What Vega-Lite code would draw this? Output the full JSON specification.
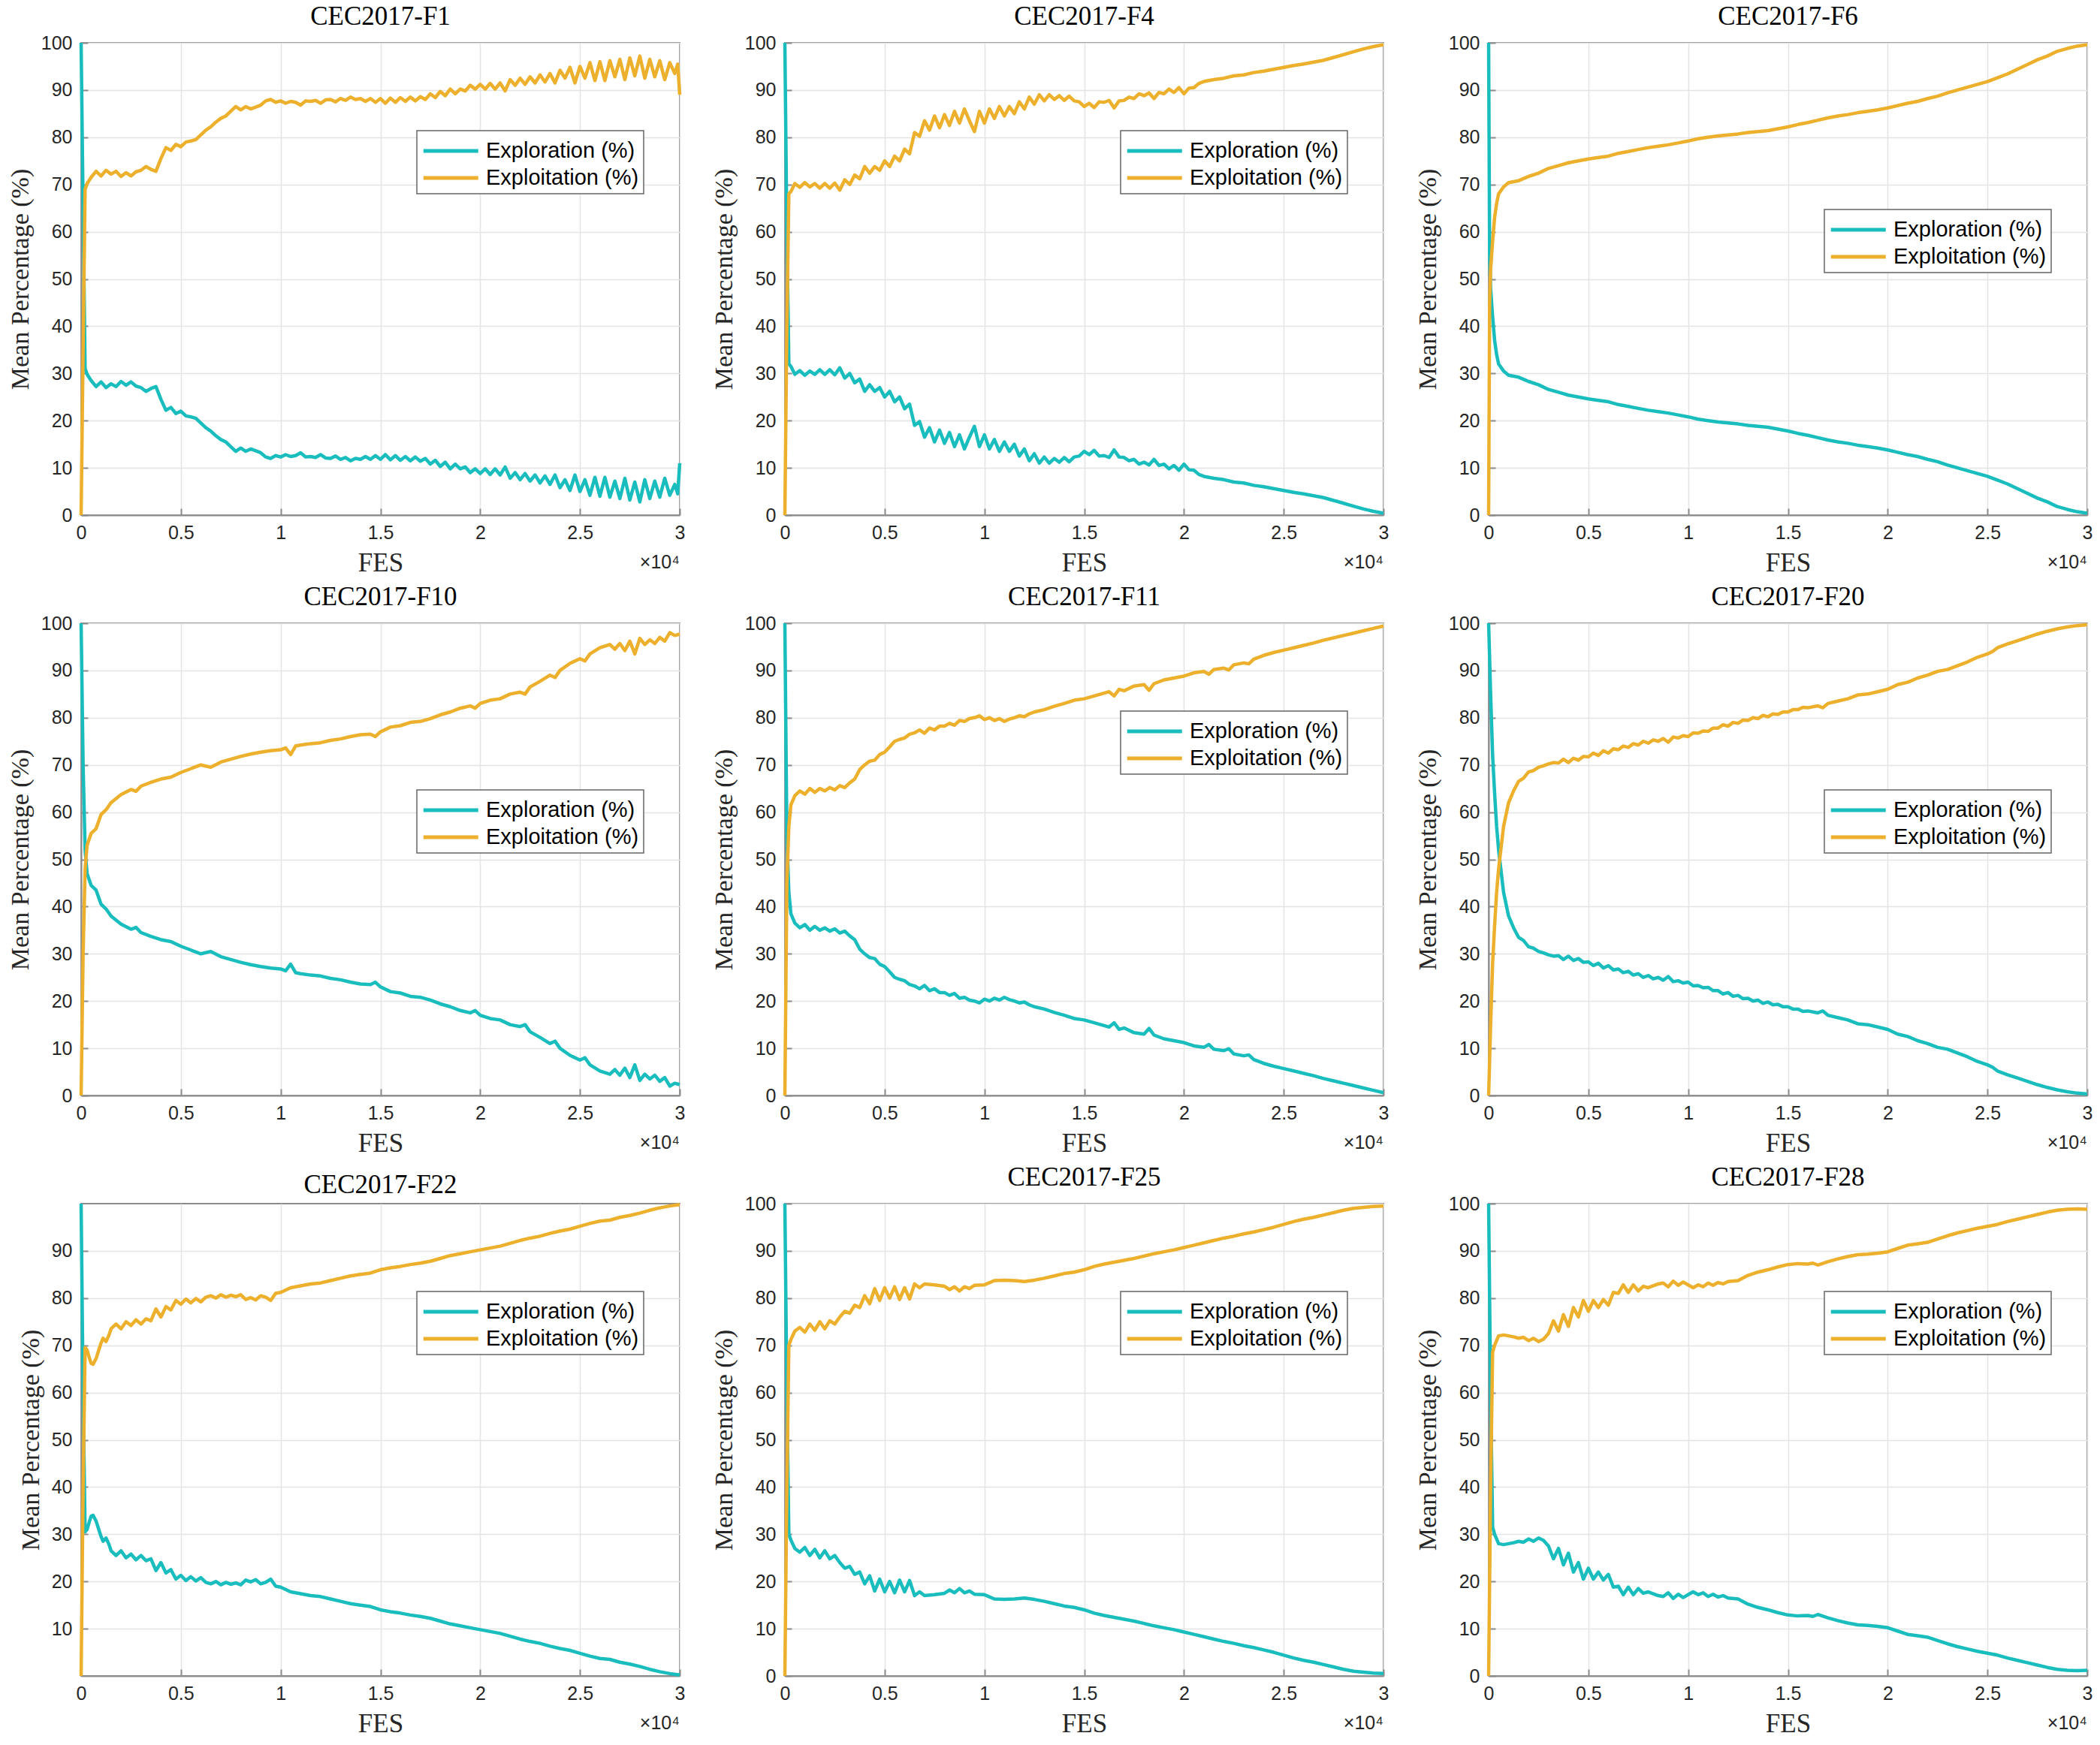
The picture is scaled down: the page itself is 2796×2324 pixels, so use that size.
{
"$schema":"https://vega.github.io/schema/vega-lite/v6.json",
"padding":{"left":9,"top":4,"right":0,"bottom":0},
"background":"white",
"data":{"values":[
{"p":"F1","x":0,"a":100,"b":0},{"p":"F1","x":100,"a":65,"b":35},{"p":"F1","x":200,"a":31,"b":69},{"p":"F1","x":300,"a":29.8,"b":70.2},{"p":"F1","x":500,"a":28.5,"b":71.5},{"p":"F1","x":750,"a":27.2,"b":72.8},{"p":"F1","x":1000,"a":28.2,"b":71.8},{"p":"F1","x":1250,"a":27,"b":73},{"p":"F1","x":1500,"a":27.8,"b":72.2},{"p":"F1","x":1750,"a":27.2,"b":72.8},{"p":"F1","x":2000,"a":28.3,"b":71.7},{"p":"F1","x":2250,"a":27.5,"b":72.5},{"p":"F1","x":2500,"a":28.2,"b":71.8},{"p":"F1","x":2750,"a":27.3,"b":72.7},{"p":"F1","x":3000,"a":27,"b":73},{"p":"F1","x":3250,"a":26.2,"b":73.8},{"p":"F1","x":3500,"a":26.8,"b":73.2},{"p":"F1","x":3750,"a":27.2,"b":72.8},{"p":"F1","x":4000,"a":24.5,"b":75.5},{"p":"F1","x":4250,"a":22.2,"b":77.8},{"p":"F1","x":4500,"a":22.8,"b":77.2},{"p":"F1","x":4750,"a":21.5,"b":78.5},{"p":"F1","x":5000,"a":22,"b":78},{"p":"F1","x":5250,"a":21,"b":79},{"p":"F1","x":5500,"a":20.8,"b":79.2},{"p":"F1","x":5750,"a":20.5,"b":79.5},{"p":"F1","x":6000,"a":19.5,"b":80.5},{"p":"F1","x":6250,"a":18.5,"b":81.5},{"p":"F1","x":6500,"a":17.8,"b":82.2},{"p":"F1","x":6750,"a":16.8,"b":83.2},{"p":"F1","x":7000,"a":16,"b":84},{"p":"F1","x":7250,"a":15.5,"b":84.5},{"p":"F1","x":7500,"a":14.5,"b":85.5},{"p":"F1","x":7750,"a":13.5,"b":86.5},{"p":"F1","x":8000,"a":14.2,"b":85.8},{"p":"F1","x":8250,"a":13.5,"b":86.5},{"p":"F1","x":8500,"a":14,"b":86},{"p":"F1","x":8750,"a":13.6,"b":86.4},{"p":"F1","x":9000,"a":13.2,"b":86.8},{"p":"F1","x":9250,"a":12.3,"b":87.7},{"p":"F1","x":9500,"a":12,"b":88},{"p":"F1","x":9750,"a":12.6,"b":87.4},{"p":"F1","x":10000,"a":12.3,"b":87.7},{"p":"F1","x":10250,"a":12.8,"b":87.2},{"p":"F1","x":10500,"a":12.4,"b":87.6},{"p":"F1","x":10750,"a":12.6,"b":87.4},{"p":"F1","x":11000,"a":13.2,"b":86.8},{"p":"F1","x":11250,"a":12.3,"b":87.7},{"p":"F1","x":11500,"a":12.4,"b":87.6},{"p":"F1","x":11750,"a":12.2,"b":87.8},{"p":"F1","x":12000,"a":12.8,"b":87.2},{"p":"F1","x":12250,"a":12.1,"b":87.9},{"p":"F1","x":12500,"a":12,"b":88},{"p":"F1","x":12750,"a":12.5,"b":87.5},{"p":"F1","x":13000,"a":11.8,"b":88.2},{"p":"F1","x":13250,"a":12.2,"b":87.8},{"p":"F1","x":13500,"a":11.5,"b":88.5},{"p":"F1","x":13750,"a":12,"b":88},{"p":"F1","x":14000,"a":11.8,"b":88.2},{"p":"F1","x":14250,"a":12.4,"b":87.6},{"p":"F1","x":14500,"a":11.8,"b":88.2},{"p":"F1","x":14750,"a":12.6,"b":87.4},{"p":"F1","x":15000,"a":11.8,"b":88.2},{"p":"F1","x":15250,"a":12.8,"b":87.2},{"p":"F1","x":15500,"a":11.7,"b":88.3},{"p":"F1","x":15750,"a":12.6,"b":87.4},{"p":"F1","x":16000,"a":11.6,"b":88.4},{"p":"F1","x":16250,"a":12.4,"b":87.6},{"p":"F1","x":16500,"a":11.5,"b":88.5},{"p":"F1","x":16750,"a":12.3,"b":87.7},{"p":"F1","x":17000,"a":11.4,"b":88.6},{"p":"F1","x":17250,"a":12,"b":88},{"p":"F1","x":17500,"a":10.8,"b":89.2},{"p":"F1","x":17750,"a":11.6,"b":88.4},{"p":"F1","x":18000,"a":10.3,"b":89.7},{"p":"F1","x":18250,"a":11.2,"b":88.8},{"p":"F1","x":18500,"a":9.8,"b":90.2},{"p":"F1","x":18750,"a":10.8,"b":89.2},{"p":"F1","x":19000,"a":9.8,"b":90.2},{"p":"F1","x":19250,"a":10.2,"b":89.8},{"p":"F1","x":19500,"a":9,"b":91},{"p":"F1","x":19750,"a":9.8,"b":90.2},{"p":"F1","x":20000,"a":8.8,"b":91.2},{"p":"F1","x":20250,"a":9.8,"b":90.2},{"p":"F1","x":20500,"a":8.6,"b":91.4},{"p":"F1","x":20750,"a":9.8,"b":90.2},{"p":"F1","x":21000,"a":8.5,"b":91.5},{"p":"F1","x":21250,"a":10.2,"b":89.8},{"p":"F1","x":21500,"a":7.8,"b":92.2},{"p":"F1","x":21750,"a":9,"b":91},{"p":"F1","x":22000,"a":7.5,"b":92.5},{"p":"F1","x":22250,"a":8.8,"b":91.2},{"p":"F1","x":22500,"a":7.2,"b":92.8},{"p":"F1","x":22750,"a":8.5,"b":91.5},{"p":"F1","x":23000,"a":6.8,"b":93.2},{"p":"F1","x":23250,"a":8.3,"b":91.7},{"p":"F1","x":23500,"a":6.5,"b":93.5},{"p":"F1","x":23750,"a":8.5,"b":91.5},{"p":"F1","x":24000,"a":5.8,"b":94.2},{"p":"F1","x":24250,"a":7.5,"b":92.5},{"p":"F1","x":24500,"a":5.2,"b":94.8},{"p":"F1","x":24750,"a":8.5,"b":91.5},{"p":"F1","x":25000,"a":5,"b":95},{"p":"F1","x":25250,"a":7.5,"b":92.5},{"p":"F1","x":25500,"a":4.2,"b":95.8},{"p":"F1","x":25750,"a":8,"b":92},{"p":"F1","x":26000,"a":4,"b":96},{"p":"F1","x":26250,"a":8,"b":92},{"p":"F1","x":26500,"a":3.8,"b":96.2},{"p":"F1","x":26750,"a":7.2,"b":92.8},{"p":"F1","x":27000,"a":3.5,"b":96.5},{"p":"F1","x":27250,"a":7.8,"b":92.2},{"p":"F1","x":27500,"a":3.2,"b":96.8},{"p":"F1","x":27750,"a":7,"b":93},{"p":"F1","x":28000,"a":2.8,"b":97.2},{"p":"F1","x":28250,"a":7.5,"b":92.5},{"p":"F1","x":28500,"a":3.5,"b":96.5},{"p":"F1","x":28750,"a":7.2,"b":92.8},{"p":"F1","x":29000,"a":3.8,"b":96.2},{"p":"F1","x":29250,"a":7.8,"b":92.2},{"p":"F1","x":29500,"a":4.2,"b":95.8},{"p":"F1","x":29750,"a":6.5,"b":93.5},{"p":"F1","x":29900,"a":4.5,"b":95.5},{"p":"F1","x":30000,"a":11,"b":89},
{"p":"F4","x":0,"a":100,"b":0},{"p":"F4","x":100,"a":60,"b":40},{"p":"F4","x":200,"a":32,"b":68},{"p":"F4","x":300,"a":31.5,"b":68.5},{"p":"F4","x":500,"a":29.8,"b":70.2},{"p":"F4","x":750,"a":30.6,"b":69.4},{"p":"F4","x":1000,"a":29.6,"b":70.4},{"p":"F4","x":1250,"a":30.5,"b":69.5},{"p":"F4","x":1500,"a":29.8,"b":70.2},{"p":"F4","x":1750,"a":30.8,"b":69.2},{"p":"F4","x":2000,"a":29.8,"b":70.2},{"p":"F4","x":2250,"a":30.8,"b":69.2},{"p":"F4","x":2500,"a":29.7,"b":70.3},{"p":"F4","x":2750,"a":31.2,"b":68.8},{"p":"F4","x":3000,"a":29,"b":71},{"p":"F4","x":3250,"a":30,"b":70},{"p":"F4","x":3500,"a":28,"b":72},{"p":"F4","x":3750,"a":28.8,"b":71.2},{"p":"F4","x":4000,"a":26.2,"b":73.8},{"p":"F4","x":4250,"a":27.6,"b":72.4},{"p":"F4","x":4500,"a":26.2,"b":73.8},{"p":"F4","x":4750,"a":27,"b":73},{"p":"F4","x":5000,"a":25,"b":75},{"p":"F4","x":5250,"a":26.2,"b":73.8},{"p":"F4","x":5500,"a":24,"b":76},{"p":"F4","x":5750,"a":25,"b":75},{"p":"F4","x":6000,"a":22.5,"b":77.5},{"p":"F4","x":6250,"a":23.5,"b":76.5},{"p":"F4","x":6500,"a":19,"b":81},{"p":"F4","x":6750,"a":19.8,"b":80.2},{"p":"F4","x":7000,"a":16.5,"b":83.5},{"p":"F4","x":7250,"a":18.5,"b":81.5},{"p":"F4","x":7500,"a":15.5,"b":84.5},{"p":"F4","x":7750,"a":18,"b":82},{"p":"F4","x":8000,"a":15.2,"b":84.8},{"p":"F4","x":8250,"a":17.5,"b":82.5},{"p":"F4","x":8500,"a":14.5,"b":85.5},{"p":"F4","x":8750,"a":17,"b":83},{"p":"F4","x":9000,"a":14,"b":86},{"p":"F4","x":9250,"a":16.5,"b":83.5},{"p":"F4","x":9500,"a":18.8,"b":81.2},{"p":"F4","x":9750,"a":14.5,"b":85.5},{"p":"F4","x":10000,"a":17,"b":83},{"p":"F4","x":10250,"a":14,"b":86},{"p":"F4","x":10500,"a":16,"b":84},{"p":"F4","x":10750,"a":13.5,"b":86.5},{"p":"F4","x":11000,"a":15.5,"b":84.5},{"p":"F4","x":11250,"a":13.5,"b":86.5},{"p":"F4","x":11500,"a":15,"b":85},{"p":"F4","x":11750,"a":12.5,"b":87.5},{"p":"F4","x":12000,"a":14,"b":86},{"p":"F4","x":12250,"a":11.5,"b":88.5},{"p":"F4","x":12500,"a":13,"b":87},{"p":"F4","x":12750,"a":11,"b":89},{"p":"F4","x":13000,"a":12.3,"b":87.7},{"p":"F4","x":13250,"a":11,"b":89},{"p":"F4","x":13500,"a":12,"b":88},{"p":"F4","x":13750,"a":11.2,"b":88.8},{"p":"F4","x":14000,"a":12.2,"b":87.8},{"p":"F4","x":14250,"a":11.3,"b":88.7},{"p":"F4","x":14500,"a":12.3,"b":87.7},{"p":"F4","x":14750,"a":12.5,"b":87.5},{"p":"F4","x":15000,"a":13.5,"b":86.5},{"p":"F4","x":15250,"a":12.8,"b":87.2},{"p":"F4","x":15500,"a":13.7,"b":86.3},{"p":"F4","x":15750,"a":12.5,"b":87.5},{"p":"F4","x":16000,"a":12.6,"b":87.4},{"p":"F4","x":16250,"a":12.2,"b":87.8},{"p":"F4","x":16500,"a":13.8,"b":86.2},{"p":"F4","x":16750,"a":12.3,"b":87.7},{"p":"F4","x":17000,"a":12.2,"b":87.8},{"p":"F4","x":17250,"a":11.5,"b":88.5},{"p":"F4","x":17500,"a":11.8,"b":88.2},{"p":"F4","x":17750,"a":10.8,"b":89.2},{"p":"F4","x":18000,"a":11.2,"b":88.8},{"p":"F4","x":18250,"a":10.6,"b":89.4},{"p":"F4","x":18500,"a":11.8,"b":88.2},{"p":"F4","x":18750,"a":10.5,"b":89.5},{"p":"F4","x":19000,"a":10.8,"b":89.2},{"p":"F4","x":19250,"a":9.8,"b":90.2},{"p":"F4","x":19500,"a":10.5,"b":89.5},{"p":"F4","x":19750,"a":9.5,"b":90.5},{"p":"F4","x":20000,"a":10.8,"b":89.2},{"p":"F4","x":20250,"a":9.6,"b":90.4},{"p":"F4","x":20500,"a":9.5,"b":90.5},{"p":"F4","x":20750,"a":8.6,"b":91.4},{"p":"F4","x":21000,"a":8.2,"b":91.8},{"p":"F4","x":21500,"a":7.8,"b":92.2},{"p":"F4","x":22000,"a":7.5,"b":92.5},{"p":"F4","x":22500,"a":7,"b":93},{"p":"F4","x":23000,"a":6.8,"b":93.2},{"p":"F4","x":23500,"a":6.3,"b":93.7},{"p":"F4","x":24000,"a":6,"b":94},{"p":"F4","x":24500,"a":5.6,"b":94.4},{"p":"F4","x":25000,"a":5.2,"b":94.8},{"p":"F4","x":25500,"a":4.8,"b":95.2},{"p":"F4","x":26000,"a":4.5,"b":95.5},{"p":"F4","x":26500,"a":4.1,"b":95.9},{"p":"F4","x":27000,"a":3.7,"b":96.3},{"p":"F4","x":27500,"a":3.1,"b":96.9},{"p":"F4","x":28000,"a":2.5,"b":97.5},{"p":"F4","x":28500,"a":1.9,"b":98.1},{"p":"F4","x":29000,"a":1.3,"b":98.7},{"p":"F4","x":29500,"a":0.8,"b":99.2},{"p":"F4","x":30000,"a":0.4,"b":99.6},
{"p":"F6","x":0,"a":100,"b":0},{"p":"F6","x":50,"a":55,"b":45},{"p":"F6","x":100,"a":48,"b":52},{"p":"F6","x":200,"a":42,"b":58},{"p":"F6","x":300,"a":37,"b":63},{"p":"F6","x":400,"a":34,"b":66},{"p":"F6","x":500,"a":32,"b":68},{"p":"F6","x":750,"a":30.5,"b":69.5},{"p":"F6","x":1000,"a":29.6,"b":70.4},{"p":"F6","x":1500,"a":29.2,"b":70.8},{"p":"F6","x":2000,"a":28.3,"b":71.7},{"p":"F6","x":2500,"a":27.6,"b":72.4},{"p":"F6","x":3000,"a":26.6,"b":73.4},{"p":"F6","x":3500,"a":26,"b":74},{"p":"F6","x":4000,"a":25.4,"b":74.6},{"p":"F6","x":4500,"a":25,"b":75},{"p":"F6","x":5000,"a":24.6,"b":75.4},{"p":"F6","x":5500,"a":24.3,"b":75.7},{"p":"F6","x":6000,"a":24,"b":76},{"p":"F6","x":6500,"a":23.4,"b":76.6},{"p":"F6","x":7000,"a":23,"b":77},{"p":"F6","x":7500,"a":22.6,"b":77.4},{"p":"F6","x":8000,"a":22.2,"b":77.8},{"p":"F6","x":8500,"a":21.9,"b":78.1},{"p":"F6","x":9000,"a":21.6,"b":78.4},{"p":"F6","x":9500,"a":21.2,"b":78.8},{"p":"F6","x":10000,"a":20.8,"b":79.2},{"p":"F6","x":10500,"a":20.3,"b":79.7},{"p":"F6","x":11000,"a":20,"b":80},{"p":"F6","x":11500,"a":19.7,"b":80.3},{"p":"F6","x":12000,"a":19.5,"b":80.5},{"p":"F6","x":12500,"a":19.3,"b":80.7},{"p":"F6","x":13000,"a":19,"b":81},{"p":"F6","x":13500,"a":18.8,"b":81.2},{"p":"F6","x":14000,"a":18.6,"b":81.4},{"p":"F6","x":14500,"a":18.2,"b":81.8},{"p":"F6","x":15000,"a":17.8,"b":82.2},{"p":"F6","x":15500,"a":17.3,"b":82.7},{"p":"F6","x":16000,"a":16.9,"b":83.1},{"p":"F6","x":16500,"a":16.4,"b":83.6},{"p":"F6","x":17000,"a":15.9,"b":84.1},{"p":"F6","x":17500,"a":15.5,"b":84.5},{"p":"F6","x":18000,"a":15.2,"b":84.8},{"p":"F6","x":18500,"a":14.8,"b":85.2},{"p":"F6","x":19000,"a":14.5,"b":85.5},{"p":"F6","x":19500,"a":14.2,"b":85.8},{"p":"F6","x":20000,"a":13.8,"b":86.2},{"p":"F6","x":20500,"a":13.3,"b":86.7},{"p":"F6","x":21000,"a":12.8,"b":87.2},{"p":"F6","x":21500,"a":12.4,"b":87.6},{"p":"F6","x":22000,"a":11.8,"b":88.2},{"p":"F6","x":22500,"a":11.3,"b":88.7},{"p":"F6","x":23000,"a":10.6,"b":89.4},{"p":"F6","x":23500,"a":10,"b":90},{"p":"F6","x":24000,"a":9.4,"b":90.6},{"p":"F6","x":24500,"a":8.8,"b":91.2},{"p":"F6","x":25000,"a":8.2,"b":91.8},{"p":"F6","x":25500,"a":7.4,"b":92.6},{"p":"F6","x":26000,"a":6.6,"b":93.4},{"p":"F6","x":26500,"a":5.6,"b":94.4},{"p":"F6","x":27000,"a":4.6,"b":95.4},{"p":"F6","x":27500,"a":3.6,"b":96.4},{"p":"F6","x":28000,"a":2.8,"b":97.2},{"p":"F6","x":28500,"a":1.8,"b":98.2},{"p":"F6","x":29000,"a":1.2,"b":98.8},{"p":"F6","x":29500,"a":0.7,"b":99.3},{"p":"F6","x":30000,"a":0.4,"b":99.6},
{"p":"F10","x":0,"a":100,"b":0},{"p":"F10","x":100,"a":70,"b":30},{"p":"F10","x":200,"a":52,"b":48},{"p":"F10","x":300,"a":47,"b":53},{"p":"F10","x":500,"a":44.5,"b":55.5},{"p":"F10","x":750,"a":43.5,"b":56.5},{"p":"F10","x":1000,"a":40.5,"b":59.5},{"p":"F10","x":1250,"a":39.5,"b":60.5},{"p":"F10","x":1500,"a":38,"b":62},{"p":"F10","x":2000,"a":36.3,"b":63.7},{"p":"F10","x":2500,"a":35.2,"b":64.8},{"p":"F10","x":2750,"a":35.6,"b":64.4},{"p":"F10","x":3000,"a":34.5,"b":65.5},{"p":"F10","x":3500,"a":33.7,"b":66.3},{"p":"F10","x":4000,"a":33,"b":67},{"p":"F10","x":4500,"a":32.6,"b":67.4},{"p":"F10","x":5000,"a":31.6,"b":68.4},{"p":"F10","x":5500,"a":30.8,"b":69.2},{"p":"F10","x":6000,"a":30,"b":70},{"p":"F10","x":6500,"a":30.5,"b":69.5},{"p":"F10","x":7000,"a":29.4,"b":70.6},{"p":"F10","x":7500,"a":28.8,"b":71.2},{"p":"F10","x":8000,"a":28.2,"b":71.8},{"p":"F10","x":8500,"a":27.7,"b":72.3},{"p":"F10","x":9000,"a":27.3,"b":72.7},{"p":"F10","x":9500,"a":27,"b":73},{"p":"F10","x":10000,"a":26.8,"b":73.2},{"p":"F10","x":10250,"a":26.4,"b":73.6},{"p":"F10","x":10500,"a":27.8,"b":72.2},{"p":"F10","x":10750,"a":26,"b":74},{"p":"F10","x":11000,"a":25.8,"b":74.2},{"p":"F10","x":11500,"a":25.5,"b":74.5},{"p":"F10","x":12000,"a":25.3,"b":74.7},{"p":"F10","x":12500,"a":24.8,"b":75.2},{"p":"F10","x":13000,"a":24.5,"b":75.5},{"p":"F10","x":13500,"a":24,"b":76},{"p":"F10","x":14000,"a":23.6,"b":76.4},{"p":"F10","x":14500,"a":23.5,"b":76.5},{"p":"F10","x":14750,"a":24,"b":76},{"p":"F10","x":15000,"a":23,"b":77},{"p":"F10","x":15500,"a":22,"b":78},{"p":"F10","x":16000,"a":21.7,"b":78.3},{"p":"F10","x":16500,"a":21,"b":79},{"p":"F10","x":17000,"a":20.8,"b":79.2},{"p":"F10","x":17500,"a":20.2,"b":79.8},{"p":"F10","x":18000,"a":19.4,"b":80.6},{"p":"F10","x":18500,"a":18.8,"b":81.2},{"p":"F10","x":19000,"a":18,"b":82},{"p":"F10","x":19500,"a":17.5,"b":82.5},{"p":"F10","x":19750,"a":18,"b":82},{"p":"F10","x":20000,"a":17,"b":83},{"p":"F10","x":20500,"a":16.3,"b":83.7},{"p":"F10","x":21000,"a":16,"b":84},{"p":"F10","x":21500,"a":15,"b":85},{"p":"F10","x":22000,"a":14.6,"b":85.4},{"p":"F10","x":22250,"a":15,"b":85},{"p":"F10","x":22500,"a":13.5,"b":86.5},{"p":"F10","x":23000,"a":12.3,"b":87.7},{"p":"F10","x":23500,"a":11,"b":89},{"p":"F10","x":23750,"a":11.5,"b":88.5},{"p":"F10","x":24000,"a":10,"b":90},{"p":"F10","x":24500,"a":8.5,"b":91.5},{"p":"F10","x":25000,"a":7.5,"b":92.5},{"p":"F10","x":25250,"a":8,"b":92},{"p":"F10","x":25500,"a":6.5,"b":93.5},{"p":"F10","x":26000,"a":5.2,"b":94.8},{"p":"F10","x":26500,"a":4.5,"b":95.5},{"p":"F10","x":26750,"a":5.5,"b":94.5},{"p":"F10","x":27000,"a":4.3,"b":95.7},{"p":"F10","x":27250,"a":5.8,"b":94.2},{"p":"F10","x":27500,"a":3.8,"b":96.2},{"p":"F10","x":27750,"a":6.5,"b":93.5},{"p":"F10","x":28000,"a":3.2,"b":96.8},{"p":"F10","x":28250,"a":4.5,"b":95.5},{"p":"F10","x":28500,"a":3.5,"b":96.5},{"p":"F10","x":28750,"a":4.3,"b":95.7},{"p":"F10","x":29000,"a":3,"b":97},{"p":"F10","x":29250,"a":3.8,"b":96.2},{"p":"F10","x":29500,"a":2,"b":98},{"p":"F10","x":29750,"a":2.6,"b":97.4},{"p":"F10","x":30000,"a":2.3,"b":97.7},
{"p":"F11","x":0,"a":100,"b":0},{"p":"F11","x":100,"a":55,"b":45},{"p":"F11","x":200,"a":43,"b":57},{"p":"F11","x":300,"a":38.5,"b":61.5},{"p":"F11","x":500,"a":36.5,"b":63.5},{"p":"F11","x":750,"a":35.5,"b":64.5},{"p":"F11","x":1000,"a":36.2,"b":63.8},{"p":"F11","x":1250,"a":35,"b":65},{"p":"F11","x":1500,"a":35.8,"b":64.2},{"p":"F11","x":1750,"a":35,"b":65},{"p":"F11","x":2000,"a":35.5,"b":64.5},{"p":"F11","x":2250,"a":34.8,"b":65.2},{"p":"F11","x":2500,"a":35.3,"b":64.7},{"p":"F11","x":2750,"a":34.4,"b":65.6},{"p":"F11","x":3000,"a":34.8,"b":65.2},{"p":"F11","x":3250,"a":33.8,"b":66.2},{"p":"F11","x":3500,"a":33,"b":67},{"p":"F11","x":3750,"a":31,"b":69},{"p":"F11","x":4000,"a":30,"b":70},{"p":"F11","x":4250,"a":29.2,"b":70.8},{"p":"F11","x":4500,"a":29,"b":71},{"p":"F11","x":4750,"a":27.8,"b":72.2},{"p":"F11","x":5000,"a":27.3,"b":72.7},{"p":"F11","x":5250,"a":26.2,"b":73.8},{"p":"F11","x":5500,"a":25,"b":75},{"p":"F11","x":5750,"a":24.6,"b":75.4},{"p":"F11","x":6000,"a":24.3,"b":75.7},{"p":"F11","x":6250,"a":23.5,"b":76.5},{"p":"F11","x":6500,"a":23.2,"b":76.8},{"p":"F11","x":6750,"a":22.6,"b":77.4},{"p":"F11","x":7000,"a":23.3,"b":76.7},{"p":"F11","x":7250,"a":22.2,"b":77.8},{"p":"F11","x":7500,"a":22.6,"b":77.4},{"p":"F11","x":7750,"a":21.8,"b":78.2},{"p":"F11","x":8000,"a":21.8,"b":78.2},{"p":"F11","x":8250,"a":21.2,"b":78.8},{"p":"F11","x":8500,"a":21.6,"b":78.4},{"p":"F11","x":8750,"a":20.6,"b":79.4},{"p":"F11","x":9000,"a":20.8,"b":79.2},{"p":"F11","x":9250,"a":20.2,"b":79.8},{"p":"F11","x":9500,"a":20,"b":80},{"p":"F11","x":9750,"a":19.6,"b":80.4},{"p":"F11","x":10000,"a":20.4,"b":79.6},{"p":"F11","x":10250,"a":20,"b":80},{"p":"F11","x":10500,"a":20.6,"b":79.4},{"p":"F11","x":10750,"a":20.2,"b":79.8},{"p":"F11","x":11000,"a":20.8,"b":79.2},{"p":"F11","x":11250,"a":20.3,"b":79.7},{"p":"F11","x":11500,"a":20,"b":80},{"p":"F11","x":11750,"a":19.6,"b":80.4},{"p":"F11","x":12000,"a":19.8,"b":80.2},{"p":"F11","x":12250,"a":19.2,"b":80.8},{"p":"F11","x":12500,"a":18.8,"b":81.2},{"p":"F11","x":13000,"a":18.3,"b":81.7},{"p":"F11","x":13500,"a":17.6,"b":82.4},{"p":"F11","x":14000,"a":17,"b":83},{"p":"F11","x":14500,"a":16.3,"b":83.7},{"p":"F11","x":15000,"a":16,"b":84},{"p":"F11","x":15500,"a":15.4,"b":84.6},{"p":"F11","x":16000,"a":14.8,"b":85.2},{"p":"F11","x":16250,"a":14.5,"b":85.5},{"p":"F11","x":16500,"a":15.4,"b":84.6},{"p":"F11","x":16750,"a":14,"b":86},{"p":"F11","x":17000,"a":14.3,"b":85.7},{"p":"F11","x":17500,"a":13.3,"b":86.7},{"p":"F11","x":18000,"a":13,"b":87},{"p":"F11","x":18250,"a":14.2,"b":85.8},{"p":"F11","x":18500,"a":12.8,"b":87.2},{"p":"F11","x":19000,"a":12,"b":88},{"p":"F11","x":19500,"a":11.6,"b":88.4},{"p":"F11","x":20000,"a":11.2,"b":88.8},{"p":"F11","x":20500,"a":10.5,"b":89.5},{"p":"F11","x":21000,"a":10.2,"b":89.8},{"p":"F11","x":21250,"a":10.8,"b":89.2},{"p":"F11","x":21500,"a":9.8,"b":90.2},{"p":"F11","x":22000,"a":9.5,"b":90.5},{"p":"F11","x":22250,"a":9.9,"b":90.1},{"p":"F11","x":22500,"a":8.8,"b":91.2},{"p":"F11","x":23000,"a":8.4,"b":91.6},{"p":"F11","x":23250,"a":8.6,"b":91.4},{"p":"F11","x":23500,"a":7.6,"b":92.4},{"p":"F11","x":24000,"a":6.8,"b":93.2},{"p":"F11","x":24500,"a":6.2,"b":93.8},{"p":"F11","x":25000,"a":5.7,"b":94.3},{"p":"F11","x":25500,"a":5.2,"b":94.8},{"p":"F11","x":26000,"a":4.7,"b":95.3},{"p":"F11","x":26500,"a":4.2,"b":95.8},{"p":"F11","x":27000,"a":3.6,"b":96.4},{"p":"F11","x":27500,"a":3.1,"b":96.9},{"p":"F11","x":28000,"a":2.6,"b":97.4},{"p":"F11","x":28500,"a":2.1,"b":97.9},{"p":"F11","x":29000,"a":1.6,"b":98.4},{"p":"F11","x":29500,"a":1.1,"b":98.9},{"p":"F11","x":30000,"a":0.6,"b":99.4},
{"p":"F20","x":0,"a":100,"b":0},{"p":"F20","x":100,"a":85,"b":15},{"p":"F20","x":200,"a":72,"b":28},{"p":"F20","x":300,"a":64,"b":36},{"p":"F20","x":400,"a":57,"b":43},{"p":"F20","x":500,"a":52,"b":48},{"p":"F20","x":750,"a":43,"b":57},{"p":"F20","x":1000,"a":38,"b":62},{"p":"F20","x":1250,"a":35.5,"b":64.5},{"p":"F20","x":1500,"a":33.5,"b":66.5},{"p":"F20","x":1750,"a":32.8,"b":67.2},{"p":"F20","x":2000,"a":31.5,"b":68.5},{"p":"F20","x":2250,"a":31.2,"b":68.8},{"p":"F20","x":2500,"a":30.5,"b":69.5},{"p":"F20","x":2750,"a":30.2,"b":69.8},{"p":"F20","x":3000,"a":29.8,"b":70.2},{"p":"F20","x":3250,"a":29.5,"b":70.5},{"p":"F20","x":3500,"a":29.6,"b":70.4},{"p":"F20","x":3750,"a":28.8,"b":71.2},{"p":"F20","x":4000,"a":29.5,"b":70.5},{"p":"F20","x":4250,"a":28.6,"b":71.4},{"p":"F20","x":4500,"a":29,"b":71},{"p":"F20","x":4750,"a":28.2,"b":71.8},{"p":"F20","x":5000,"a":28.3,"b":71.7},{"p":"F20","x":5250,"a":27.5,"b":72.5},{"p":"F20","x":5500,"a":28,"b":72},{"p":"F20","x":5750,"a":27,"b":73},{"p":"F20","x":6000,"a":27.5,"b":72.5},{"p":"F20","x":6250,"a":26.6,"b":73.4},{"p":"F20","x":6500,"a":26.8,"b":73.2},{"p":"F20","x":6750,"a":26,"b":74},{"p":"F20","x":7000,"a":26.3,"b":73.7},{"p":"F20","x":7250,"a":25.5,"b":74.5},{"p":"F20","x":7500,"a":25.8,"b":74.2},{"p":"F20","x":7750,"a":25,"b":75},{"p":"F20","x":8000,"a":25.4,"b":74.6},{"p":"F20","x":8250,"a":24.7,"b":75.3},{"p":"F20","x":8500,"a":25,"b":75},{"p":"F20","x":8750,"a":24.4,"b":75.6},{"p":"F20","x":9000,"a":25.2,"b":74.8},{"p":"F20","x":9250,"a":24.1,"b":75.9},{"p":"F20","x":9500,"a":24.3,"b":75.7},{"p":"F20","x":9750,"a":23.8,"b":76.2},{"p":"F20","x":10000,"a":24,"b":76},{"p":"F20","x":10250,"a":23.2,"b":76.8},{"p":"F20","x":10500,"a":23.3,"b":76.7},{"p":"F20","x":10750,"a":22.8,"b":77.2},{"p":"F20","x":11000,"a":22.9,"b":77.1},{"p":"F20","x":11250,"a":22.2,"b":77.8},{"p":"F20","x":11500,"a":22.2,"b":77.8},{"p":"F20","x":11750,"a":21.5,"b":78.5},{"p":"F20","x":12000,"a":21.8,"b":78.2},{"p":"F20","x":12250,"a":21,"b":79},{"p":"F20","x":12500,"a":21.2,"b":78.8},{"p":"F20","x":12750,"a":20.5,"b":79.5},{"p":"F20","x":13000,"a":20.6,"b":79.4},{"p":"F20","x":13250,"a":20,"b":80},{"p":"F20","x":13500,"a":20.2,"b":79.8},{"p":"F20","x":13750,"a":19.5,"b":80.5},{"p":"F20","x":14000,"a":19.8,"b":80.2},{"p":"F20","x":14250,"a":19.2,"b":80.8},{"p":"F20","x":14500,"a":19.3,"b":80.7},{"p":"F20","x":14750,"a":18.8,"b":81.2},{"p":"F20","x":15000,"a":18.8,"b":81.2},{"p":"F20","x":15250,"a":18.3,"b":81.7},{"p":"F20","x":15500,"a":18.3,"b":81.7},{"p":"F20","x":15750,"a":17.8,"b":82.2},{"p":"F20","x":16000,"a":17.9,"b":82.1},{"p":"F20","x":16500,"a":17.5,"b":82.5},{"p":"F20","x":16750,"a":17.9,"b":82.1},{"p":"F20","x":17000,"a":17,"b":83},{"p":"F20","x":17500,"a":16.5,"b":83.5},{"p":"F20","x":18000,"a":16,"b":84},{"p":"F20","x":18500,"a":15.2,"b":84.8},{"p":"F20","x":19000,"a":15,"b":85},{"p":"F20","x":19500,"a":14.5,"b":85.5},{"p":"F20","x":20000,"a":14,"b":86},{"p":"F20","x":20500,"a":13,"b":87},{"p":"F20","x":21000,"a":12.5,"b":87.5},{"p":"F20","x":21500,"a":11.6,"b":88.4},{"p":"F20","x":22000,"a":11,"b":89},{"p":"F20","x":22500,"a":10.2,"b":89.8},{"p":"F20","x":23000,"a":9.8,"b":90.2},{"p":"F20","x":23500,"a":9,"b":91},{"p":"F20","x":24000,"a":8.2,"b":91.8},{"p":"F20","x":24500,"a":7.2,"b":92.8},{"p":"F20","x":25000,"a":6.5,"b":93.5},{"p":"F20","x":25250,"a":6,"b":94},{"p":"F20","x":25500,"a":5.2,"b":94.8},{"p":"F20","x":26000,"a":4.4,"b":95.6},{"p":"F20","x":26500,"a":3.7,"b":96.3},{"p":"F20","x":27000,"a":3,"b":97},{"p":"F20","x":27500,"a":2.3,"b":97.7},{"p":"F20","x":28000,"a":1.7,"b":98.3},{"p":"F20","x":28500,"a":1.2,"b":98.8},{"p":"F20","x":29000,"a":0.8,"b":99.2},{"p":"F20","x":29500,"a":0.5,"b":99.5},{"p":"F20","x":30000,"a":0.3,"b":99.7},
{"p":"F22","x":0,"a":100,"b":0},{"p":"F22","x":100,"a":60,"b":40},{"p":"F22","x":200,"a":30.5,"b":69.5},{"p":"F22","x":300,"a":31,"b":69},{"p":"F22","x":400,"a":32.5,"b":67.5},{"p":"F22","x":500,"a":33.8,"b":66.2},{"p":"F22","x":600,"a":34,"b":66},{"p":"F22","x":750,"a":32.8,"b":67.2},{"p":"F22","x":1000,"a":29.5,"b":70.5},{"p":"F22","x":1100,"a":28.5,"b":71.5},{"p":"F22","x":1250,"a":29.2,"b":70.8},{"p":"F22","x":1400,"a":27.8,"b":72.2},{"p":"F22","x":1500,"a":26.5,"b":73.5},{"p":"F22","x":1750,"a":25.5,"b":74.5},{"p":"F22","x":2000,"a":26.5,"b":73.5},{"p":"F22","x":2250,"a":25,"b":75},{"p":"F22","x":2500,"a":25.8,"b":74.2},{"p":"F22","x":2750,"a":24.6,"b":75.4},{"p":"F22","x":3000,"a":25.5,"b":74.5},{"p":"F22","x":3250,"a":24.4,"b":75.6},{"p":"F22","x":3500,"a":24.8,"b":75.2},{"p":"F22","x":3750,"a":22.3,"b":77.7},{"p":"F22","x":4000,"a":24,"b":76},{"p":"F22","x":4250,"a":21.8,"b":78.2},{"p":"F22","x":4500,"a":22.5,"b":77.5},{"p":"F22","x":4750,"a":20.5,"b":79.5},{"p":"F22","x":5000,"a":21.3,"b":78.7},{"p":"F22","x":5250,"a":20.2,"b":79.8},{"p":"F22","x":5500,"a":21,"b":79},{"p":"F22","x":5750,"a":20.1,"b":79.9},{"p":"F22","x":6000,"a":20.8,"b":79.2},{"p":"F22","x":6250,"a":19.8,"b":80.2},{"p":"F22","x":6500,"a":19.5,"b":80.5},{"p":"F22","x":6750,"a":20,"b":80},{"p":"F22","x":7000,"a":19.3,"b":80.7},{"p":"F22","x":7250,"a":19.8,"b":80.2},{"p":"F22","x":7500,"a":19.4,"b":80.6},{"p":"F22","x":7750,"a":19.7,"b":80.3},{"p":"F22","x":8000,"a":19.3,"b":80.7},{"p":"F22","x":8250,"a":20.3,"b":79.7},{"p":"F22","x":8500,"a":19.9,"b":80.1},{"p":"F22","x":8750,"a":20.4,"b":79.6},{"p":"F22","x":9000,"a":19.5,"b":80.5},{"p":"F22","x":9250,"a":19.8,"b":80.2},{"p":"F22","x":9500,"a":20.5,"b":79.5},{"p":"F22","x":9750,"a":19,"b":81},{"p":"F22","x":10000,"a":18.8,"b":81.2},{"p":"F22","x":10500,"a":17.8,"b":82.2},{"p":"F22","x":11000,"a":17.4,"b":82.6},{"p":"F22","x":11500,"a":17,"b":83},{"p":"F22","x":12000,"a":16.8,"b":83.2},{"p":"F22","x":12500,"a":16.3,"b":83.7},{"p":"F22","x":13000,"a":15.8,"b":84.2},{"p":"F22","x":13500,"a":15.3,"b":84.7},{"p":"F22","x":14000,"a":15,"b":85},{"p":"F22","x":14500,"a":14.7,"b":85.3},{"p":"F22","x":15000,"a":14,"b":86},{"p":"F22","x":15500,"a":13.6,"b":86.4},{"p":"F22","x":16000,"a":13.3,"b":86.7},{"p":"F22","x":16500,"a":12.9,"b":87.1},{"p":"F22","x":17000,"a":12.6,"b":87.4},{"p":"F22","x":17500,"a":12.2,"b":87.8},{"p":"F22","x":18000,"a":11.6,"b":88.4},{"p":"F22","x":18500,"a":11,"b":89},{"p":"F22","x":19000,"a":10.6,"b":89.4},{"p":"F22","x":19500,"a":10.2,"b":89.8},{"p":"F22","x":20000,"a":9.8,"b":90.2},{"p":"F22","x":20500,"a":9.4,"b":90.6},{"p":"F22","x":21000,"a":9,"b":91},{"p":"F22","x":21500,"a":8.4,"b":91.6},{"p":"F22","x":22000,"a":7.8,"b":92.2},{"p":"F22","x":22500,"a":7.3,"b":92.7},{"p":"F22","x":23000,"a":6.9,"b":93.1},{"p":"F22","x":23500,"a":6.3,"b":93.7},{"p":"F22","x":24000,"a":5.8,"b":94.2},{"p":"F22","x":24500,"a":5.4,"b":94.6},{"p":"F22","x":25000,"a":4.8,"b":95.2},{"p":"F22","x":25500,"a":4.2,"b":95.8},{"p":"F22","x":26000,"a":3.7,"b":96.3},{"p":"F22","x":26500,"a":3.5,"b":96.5},{"p":"F22","x":27000,"a":2.9,"b":97.1},{"p":"F22","x":27500,"a":2.5,"b":97.5},{"p":"F22","x":28000,"a":2,"b":98},{"p":"F22","x":28500,"a":1.4,"b":98.6},{"p":"F22","x":29000,"a":0.9,"b":99.1},{"p":"F22","x":29500,"a":0.5,"b":99.5},{"p":"F22","x":30000,"a":0.2,"b":99.8},
{"p":"F25","x":0,"a":100,"b":0},{"p":"F25","x":100,"a":60,"b":40},{"p":"F25","x":200,"a":30,"b":70},{"p":"F25","x":300,"a":28.8,"b":71.2},{"p":"F25","x":500,"a":27,"b":73},{"p":"F25","x":750,"a":26.2,"b":73.8},{"p":"F25","x":1000,"a":27.2,"b":72.8},{"p":"F25","x":1250,"a":25.5,"b":74.5},{"p":"F25","x":1500,"a":26.8,"b":73.2},{"p":"F25","x":1750,"a":25,"b":75},{"p":"F25","x":2000,"a":26.5,"b":73.5},{"p":"F25","x":2250,"a":24.8,"b":75.2},{"p":"F25","x":2500,"a":25.5,"b":74.5},{"p":"F25","x":2750,"a":24,"b":76},{"p":"F25","x":3000,"a":22.8,"b":77.2},{"p":"F25","x":3250,"a":23.2,"b":76.8},{"p":"F25","x":3500,"a":21.5,"b":78.5},{"p":"F25","x":3750,"a":22,"b":78},{"p":"F25","x":4000,"a":19.5,"b":80.5},{"p":"F25","x":4250,"a":21.2,"b":78.8},{"p":"F25","x":4500,"a":18,"b":82},{"p":"F25","x":4750,"a":20.5,"b":79.5},{"p":"F25","x":5000,"a":17.8,"b":82.2},{"p":"F25","x":5250,"a":20,"b":80},{"p":"F25","x":5500,"a":17.6,"b":82.4},{"p":"F25","x":5750,"a":20.3,"b":79.7},{"p":"F25","x":6000,"a":17.8,"b":82.2},{"p":"F25","x":6250,"a":20.2,"b":79.8},{"p":"F25","x":6500,"a":17,"b":83},{"p":"F25","x":6750,"a":17.8,"b":82.2},{"p":"F25","x":7000,"a":17,"b":83},{"p":"F25","x":7500,"a":17.2,"b":82.8},{"p":"F25","x":8000,"a":17.5,"b":82.5},{"p":"F25","x":8250,"a":18.2,"b":81.8},{"p":"F25","x":8500,"a":17.6,"b":82.4},{"p":"F25","x":8750,"a":18.5,"b":81.5},{"p":"F25","x":9000,"a":17.6,"b":82.4},{"p":"F25","x":9250,"a":18,"b":82},{"p":"F25","x":9500,"a":17.3,"b":82.7},{"p":"F25","x":10000,"a":17.2,"b":82.8},{"p":"F25","x":10500,"a":16.3,"b":83.7},{"p":"F25","x":11000,"a":16.2,"b":83.8},{"p":"F25","x":11500,"a":16.3,"b":83.7},{"p":"F25","x":12000,"a":16.5,"b":83.5},{"p":"F25","x":12500,"a":16.2,"b":83.8},{"p":"F25","x":13000,"a":15.8,"b":84.2},{"p":"F25","x":13500,"a":15.3,"b":84.7},{"p":"F25","x":14000,"a":14.8,"b":85.2},{"p":"F25","x":14500,"a":14.5,"b":85.5},{"p":"F25","x":15000,"a":14,"b":86},{"p":"F25","x":15500,"a":13.3,"b":86.7},{"p":"F25","x":16000,"a":12.8,"b":87.2},{"p":"F25","x":16500,"a":12.4,"b":87.6},{"p":"F25","x":17000,"a":12,"b":88},{"p":"F25","x":17500,"a":11.6,"b":88.4},{"p":"F25","x":18000,"a":11.1,"b":88.9},{"p":"F25","x":18500,"a":10.6,"b":89.4},{"p":"F25","x":19000,"a":10.2,"b":89.8},{"p":"F25","x":19500,"a":9.8,"b":90.2},{"p":"F25","x":20000,"a":9.3,"b":90.7},{"p":"F25","x":20500,"a":8.8,"b":91.2},{"p":"F25","x":21000,"a":8.3,"b":91.7},{"p":"F25","x":21500,"a":7.8,"b":92.2},{"p":"F25","x":22000,"a":7.3,"b":92.7},{"p":"F25","x":22500,"a":6.9,"b":93.1},{"p":"F25","x":23000,"a":6.4,"b":93.6},{"p":"F25","x":23500,"a":6,"b":94},{"p":"F25","x":24000,"a":5.5,"b":94.5},{"p":"F25","x":24500,"a":5,"b":95},{"p":"F25","x":25000,"a":4.4,"b":95.6},{"p":"F25","x":25500,"a":3.8,"b":96.2},{"p":"F25","x":26000,"a":3.3,"b":96.7},{"p":"F25","x":26500,"a":2.9,"b":97.1},{"p":"F25","x":27000,"a":2.4,"b":97.6},{"p":"F25","x":27500,"a":1.9,"b":98.1},{"p":"F25","x":28000,"a":1.4,"b":98.6},{"p":"F25","x":28500,"a":1,"b":99},{"p":"F25","x":29000,"a":0.8,"b":99.2},{"p":"F25","x":29500,"a":0.6,"b":99.4},{"p":"F25","x":30000,"a":0.5,"b":99.5},
{"p":"F28","x":0,"a":100,"b":0},{"p":"F28","x":100,"a":60,"b":40},{"p":"F28","x":200,"a":31.5,"b":68.5},{"p":"F28","x":300,"a":30,"b":70},{"p":"F28","x":500,"a":28,"b":72},{"p":"F28","x":750,"a":27.8,"b":72.2},{"p":"F28","x":1000,"a":28,"b":72},{"p":"F28","x":1250,"a":28.2,"b":71.8},{"p":"F28","x":1500,"a":28.5,"b":71.5},{"p":"F28","x":1750,"a":28.3,"b":71.7},{"p":"F28","x":2000,"a":29,"b":71},{"p":"F28","x":2250,"a":28.5,"b":71.5},{"p":"F28","x":2500,"a":29.2,"b":70.8},{"p":"F28","x":2750,"a":28.7,"b":71.3},{"p":"F28","x":3000,"a":27.5,"b":72.5},{"p":"F28","x":3250,"a":24.8,"b":75.2},{"p":"F28","x":3500,"a":27,"b":73},{"p":"F28","x":3750,"a":23.5,"b":76.5},{"p":"F28","x":4000,"a":26,"b":74},{"p":"F28","x":4250,"a":22,"b":78},{"p":"F28","x":4500,"a":24,"b":76},{"p":"F28","x":4750,"a":20.5,"b":79.5},{"p":"F28","x":5000,"a":22.8,"b":77.2},{"p":"F28","x":5250,"a":20.5,"b":79.5},{"p":"F28","x":5500,"a":22,"b":78},{"p":"F28","x":5750,"a":20.3,"b":79.7},{"p":"F28","x":6000,"a":21.5,"b":78.5},{"p":"F28","x":6250,"a":18.8,"b":81.2},{"p":"F28","x":6500,"a":19,"b":81},{"p":"F28","x":6750,"a":17.2,"b":82.8},{"p":"F28","x":7000,"a":18.8,"b":81.2},{"p":"F28","x":7250,"a":17.2,"b":82.8},{"p":"F28","x":7500,"a":18.5,"b":81.5},{"p":"F28","x":7750,"a":17.5,"b":82.5},{"p":"F28","x":8000,"a":17.8,"b":82.2},{"p":"F28","x":8500,"a":17,"b":83},{"p":"F28","x":8750,"a":16.8,"b":83.2},{"p":"F28","x":9000,"a":17.6,"b":82.4},{"p":"F28","x":9250,"a":16.4,"b":83.6},{"p":"F28","x":9500,"a":17.3,"b":82.7},{"p":"F28","x":9750,"a":16.6,"b":83.4},{"p":"F28","x":10000,"a":17.2,"b":82.8},{"p":"F28","x":10250,"a":17.8,"b":82.2},{"p":"F28","x":10500,"a":17.2,"b":82.8},{"p":"F28","x":10750,"a":17.6,"b":82.4},{"p":"F28","x":11000,"a":16.8,"b":83.2},{"p":"F28","x":11250,"a":17.3,"b":82.7},{"p":"F28","x":11500,"a":16.7,"b":83.3},{"p":"F28","x":11750,"a":17,"b":83},{"p":"F28","x":12000,"a":16.5,"b":83.5},{"p":"F28","x":12500,"a":16.3,"b":83.7},{"p":"F28","x":13000,"a":15.2,"b":84.8},{"p":"F28","x":13500,"a":14.5,"b":85.5},{"p":"F28","x":14000,"a":14,"b":86},{"p":"F28","x":14500,"a":13.4,"b":86.6},{"p":"F28","x":15000,"a":12.9,"b":87.1},{"p":"F28","x":15500,"a":12.7,"b":87.3},{"p":"F28","x":16000,"a":12.8,"b":87.2},{"p":"F28","x":16250,"a":12.6,"b":87.4},{"p":"F28","x":16500,"a":13,"b":87},{"p":"F28","x":17000,"a":12.3,"b":87.7},{"p":"F28","x":17500,"a":11.7,"b":88.3},{"p":"F28","x":18000,"a":11.2,"b":88.8},{"p":"F28","x":18500,"a":10.8,"b":89.2},{"p":"F28","x":19000,"a":10.7,"b":89.3},{"p":"F28","x":19500,"a":10.5,"b":89.5},{"p":"F28","x":20000,"a":10.2,"b":89.8},{"p":"F28","x":20500,"a":9.5,"b":90.5},{"p":"F28","x":21000,"a":8.8,"b":91.2},{"p":"F28","x":21500,"a":8.5,"b":91.5},{"p":"F28","x":22000,"a":8.2,"b":91.8},{"p":"F28","x":22500,"a":7.5,"b":92.5},{"p":"F28","x":23000,"a":6.8,"b":93.2},{"p":"F28","x":23500,"a":6.2,"b":93.8},{"p":"F28","x":24000,"a":5.7,"b":94.3},{"p":"F28","x":24500,"a":5.2,"b":94.8},{"p":"F28","x":25000,"a":4.8,"b":95.2},{"p":"F28","x":25500,"a":4.4,"b":95.6},{"p":"F28","x":26000,"a":3.8,"b":96.2},{"p":"F28","x":26500,"a":3.3,"b":96.7},{"p":"F28","x":27000,"a":2.8,"b":97.2},{"p":"F28","x":27500,"a":2.3,"b":97.7},{"p":"F28","x":28000,"a":1.8,"b":98.2},{"p":"F28","x":28500,"a":1.4,"b":98.6},{"p":"F28","x":29000,"a":1.2,"b":98.8},{"p":"F28","x":29500,"a":1.1,"b":98.9},{"p":"F28","x":30000,"a":1.2,"b":98.8}
]},
"columns":3,
"spacing":{"row":144,"column":140},
"bounds":"flush",
"resolve":{"legend":{"color":"independent"}},
"concat":[
{"title":"CEC2017-F1","width":797,"height":629,"layer":[
{"transform":[{"filter":"datum.p=='F1'"},{"fold":["a","b"],"as":["s","v"]}],"mark":{"type":"line","strokeWidth":4.5,"strokeJoin":"round"},"encoding":{
"x":{"field":"x","type":"quantitative","scale":{"domain":[0,30000],"nice":false},"axis":{"values":[0,5000,10000,15000,20000,25000,30000],"labelExpr":"datum.value/10000","title":"FES"}},
"y":{"field":"v","type":"quantitative","scale":{"domain":[0,100],"nice":false},"axis":{"values":[0,10,20,30,40,50,60,70,80,90,100],"title":"Mean Percentage (%)"}},
"color":{"field":"s","type":"nominal","scale":{"domain":["a","b"],"range":["#1ABDBD","#EDB02C"]},"legend":{"title":null,"legendY":117,"labelExpr":"datum.value=='a'?'Exploration (%)':'Exploitation (%)'"}}}},
{"data":{"values":[{"t":"×10⁴"}]},"mark":{"type":"text","align":"right","baseline":"middle","dy":63,"fontSize":25,"color":"#262626","font":"Liberation Sans"},"encoding":{"x":{"datum":30000},"y":{"datum":0},"text":{"field":"t"}}}]},
{"title":"CEC2017-F4","width":797,"height":629,"layer":[
{"transform":[{"filter":"datum.p=='F4'"},{"fold":["a","b"],"as":["s","v"]}],"mark":{"type":"line","strokeWidth":4.5,"strokeJoin":"round"},"encoding":{
"x":{"field":"x","type":"quantitative","scale":{"domain":[0,30000],"nice":false},"axis":{"values":[0,5000,10000,15000,20000,25000,30000],"labelExpr":"datum.value/10000","title":"FES"}},
"y":{"field":"v","type":"quantitative","scale":{"domain":[0,100],"nice":false},"axis":{"values":[0,10,20,30,40,50,60,70,80,90,100],"title":"Mean Percentage (%)"}},
"color":{"field":"s","type":"nominal","scale":{"domain":["a","b"],"range":["#1ABDBD","#EDB02C"]},"legend":{"title":null,"legendY":117,"labelExpr":"datum.value=='a'?'Exploration (%)':'Exploitation (%)'"}}}},
{"data":{"values":[{"t":"×10⁴"}]},"mark":{"type":"text","align":"right","baseline":"middle","dy":63,"fontSize":25,"color":"#262626","font":"Liberation Sans"},"encoding":{"x":{"datum":30000},"y":{"datum":0},"text":{"field":"t"}}}]},
{"title":"CEC2017-F6","width":797,"height":629,"layer":[
{"transform":[{"filter":"datum.p=='F6'"},{"fold":["a","b"],"as":["s","v"]}],"mark":{"type":"line","strokeWidth":4.5,"strokeJoin":"round"},"encoding":{
"x":{"field":"x","type":"quantitative","scale":{"domain":[0,30000],"nice":false},"axis":{"values":[0,5000,10000,15000,20000,25000,30000],"labelExpr":"datum.value/10000","title":"FES"}},
"y":{"field":"v","type":"quantitative","scale":{"domain":[0,100],"nice":false},"axis":{"values":[0,10,20,30,40,50,60,70,80,90,100],"title":"Mean Percentage (%)"}},
"color":{"field":"s","type":"nominal","scale":{"domain":["a","b"],"range":["#1ABDBD","#EDB02C"]},"legend":{"title":null,"legendY":222,"labelExpr":"datum.value=='a'?'Exploration (%)':'Exploitation (%)'"}}}},
{"data":{"values":[{"t":"×10⁴"}]},"mark":{"type":"text","align":"right","baseline":"middle","dy":63,"fontSize":25,"color":"#262626","font":"Liberation Sans"},"encoding":{"x":{"datum":30000},"y":{"datum":0},"text":{"field":"t"}}}]},
{"title":"CEC2017-F10","width":797,"height":629,"layer":[
{"transform":[{"filter":"datum.p=='F10'"},{"fold":["a","b"],"as":["s","v"]}],"mark":{"type":"line","strokeWidth":4.5,"strokeJoin":"round"},"encoding":{
"x":{"field":"x","type":"quantitative","scale":{"domain":[0,30000],"nice":false},"axis":{"values":[0,5000,10000,15000,20000,25000,30000],"labelExpr":"datum.value/10000","title":"FES"}},
"y":{"field":"v","type":"quantitative","scale":{"domain":[0,100],"nice":false},"axis":{"values":[0,10,20,30,40,50,60,70,80,90,100],"title":"Mean Percentage (%)"}},
"color":{"field":"s","type":"nominal","scale":{"domain":["a","b"],"range":["#1ABDBD","#EDB02C"]},"legend":{"title":null,"legendY":222,"labelExpr":"datum.value=='a'?'Exploration (%)':'Exploitation (%)'"}}}},
{"data":{"values":[{"t":"×10⁴"}]},"mark":{"type":"text","align":"right","baseline":"middle","dy":63,"fontSize":25,"color":"#262626","font":"Liberation Sans"},"encoding":{"x":{"datum":30000},"y":{"datum":0},"text":{"field":"t"}}}]},
{"title":"CEC2017-F11","width":797,"height":629,"layer":[
{"transform":[{"filter":"datum.p=='F11'"},{"fold":["a","b"],"as":["s","v"]}],"mark":{"type":"line","strokeWidth":4.5,"strokeJoin":"round"},"encoding":{
"x":{"field":"x","type":"quantitative","scale":{"domain":[0,30000],"nice":false},"axis":{"values":[0,5000,10000,15000,20000,25000,30000],"labelExpr":"datum.value/10000","title":"FES"}},
"y":{"field":"v","type":"quantitative","scale":{"domain":[0,100],"nice":false},"axis":{"values":[0,10,20,30,40,50,60,70,80,90,100],"title":"Mean Percentage (%)"}},
"color":{"field":"s","type":"nominal","scale":{"domain":["a","b"],"range":["#1ABDBD","#EDB02C"]},"legend":{"title":null,"legendY":117,"labelExpr":"datum.value=='a'?'Exploration (%)':'Exploitation (%)'"}}}},
{"data":{"values":[{"t":"×10⁴"}]},"mark":{"type":"text","align":"right","baseline":"middle","dy":63,"fontSize":25,"color":"#262626","font":"Liberation Sans"},"encoding":{"x":{"datum":30000},"y":{"datum":0},"text":{"field":"t"}}}]},
{"title":"CEC2017-F20","width":797,"height":629,"layer":[
{"transform":[{"filter":"datum.p=='F20'"},{"fold":["a","b"],"as":["s","v"]}],"mark":{"type":"line","strokeWidth":4.5,"strokeJoin":"round"},"encoding":{
"x":{"field":"x","type":"quantitative","scale":{"domain":[0,30000],"nice":false},"axis":{"values":[0,5000,10000,15000,20000,25000,30000],"labelExpr":"datum.value/10000","title":"FES"}},
"y":{"field":"v","type":"quantitative","scale":{"domain":[0,100],"nice":false},"axis":{"values":[0,10,20,30,40,50,60,70,80,90,100],"title":"Mean Percentage (%)"}},
"color":{"field":"s","type":"nominal","scale":{"domain":["a","b"],"range":["#1ABDBD","#EDB02C"]},"legend":{"title":null,"legendY":222,"labelExpr":"datum.value=='a'?'Exploration (%)':'Exploitation (%)'"}}}},
{"data":{"values":[{"t":"×10⁴"}]},"mark":{"type":"text","align":"right","baseline":"middle","dy":63,"fontSize":25,"color":"#262626","font":"Liberation Sans"},"encoding":{"x":{"datum":30000},"y":{"datum":0},"text":{"field":"t"}}}]},
{"title":"CEC2017-F22","width":797,"height":629,"layer":[
{"transform":[{"filter":"datum.p=='F22'"},{"fold":["a","b"],"as":["s","v"]}],"mark":{"type":"line","strokeWidth":4.5,"strokeJoin":"round"},"encoding":{
"x":{"field":"x","type":"quantitative","scale":{"domain":[0,30000],"nice":false},"axis":{"values":[0,5000,10000,15000,20000,25000,30000],"labelExpr":"datum.value/10000","title":"FES"}},
"y":{"field":"v","type":"quantitative","scale":{"domain":[0,100],"nice":false},"axis":{"values":[10,20,30,40,50,60,70,80,90],"title":"Mean Percentage (%)"}},
"color":{"field":"s","type":"nominal","scale":{"domain":["a","b"],"range":["#1ABDBD","#EDB02C"]},"legend":{"title":null,"legendY":117,"labelExpr":"datum.value=='a'?'Exploration (%)':'Exploitation (%)'"}}}},
{"data":{"values":[{"t":"×10⁴"}]},"mark":{"type":"text","align":"right","baseline":"middle","dy":63,"fontSize":25,"color":"#262626","font":"Liberation Sans"},"encoding":{"x":{"datum":30000},"y":{"datum":0},"text":{"field":"t"}}}]},
{"title":"CEC2017-F25","width":797,"height":629,"layer":[
{"transform":[{"filter":"datum.p=='F25'"},{"fold":["a","b"],"as":["s","v"]}],"mark":{"type":"line","strokeWidth":4.5,"strokeJoin":"round"},"encoding":{
"x":{"field":"x","type":"quantitative","scale":{"domain":[0,30000],"nice":false},"axis":{"values":[0,5000,10000,15000,20000,25000,30000],"labelExpr":"datum.value/10000","title":"FES"}},
"y":{"field":"v","type":"quantitative","scale":{"domain":[0,100],"nice":false},"axis":{"values":[0,10,20,30,40,50,60,70,80,90,100],"title":"Mean Percentage (%)"}},
"color":{"field":"s","type":"nominal","scale":{"domain":["a","b"],"range":["#1ABDBD","#EDB02C"]},"legend":{"title":null,"legendY":117,"labelExpr":"datum.value=='a'?'Exploration (%)':'Exploitation (%)'"}}}},
{"data":{"values":[{"t":"×10⁴"}]},"mark":{"type":"text","align":"right","baseline":"middle","dy":63,"fontSize":25,"color":"#262626","font":"Liberation Sans"},"encoding":{"x":{"datum":30000},"y":{"datum":0},"text":{"field":"t"}}}]},
{"title":"CEC2017-F28","width":797,"height":629,"layer":[
{"transform":[{"filter":"datum.p=='F28'"},{"fold":["a","b"],"as":["s","v"]}],"mark":{"type":"line","strokeWidth":4.5,"strokeJoin":"round"},"encoding":{
"x":{"field":"x","type":"quantitative","scale":{"domain":[0,30000],"nice":false},"axis":{"values":[0,5000,10000,15000,20000,25000,30000],"labelExpr":"datum.value/10000","title":"FES"}},
"y":{"field":"v","type":"quantitative","scale":{"domain":[0,100],"nice":false},"axis":{"values":[0,10,20,30,40,50,60,70,80,90,100],"title":"Mean Percentage (%)"}},
"color":{"field":"s","type":"nominal","scale":{"domain":["a","b"],"range":["#1ABDBD","#EDB02C"]},"legend":{"title":null,"legendY":117,"labelExpr":"datum.value=='a'?'Exploration (%)':'Exploitation (%)'"}}}},
{"data":{"values":[{"t":"×10⁴"}]},"mark":{"type":"text","align":"right","baseline":"middle","dy":63,"fontSize":25,"color":"#262626","font":"Liberation Sans"},"encoding":{"x":{"datum":30000},"y":{"datum":0},"text":{"field":"t"}}}]}
],
"config":{
"view":{"stroke":"#8c8c8c","strokeWidth":2},
"title":{"font":"Liberation Serif","fontSize":35,"fontWeight":"normal","color":"#000000","offset":5},
"axis":{"domainColor":"#8c8c8c","domainWidth":2,"grid":true,"gridColor":"#e4e4e4","gridWidth":1.5,"tickColor":"#8c8c8c","tickWidth":2,"tickSize":-9,"labelFont":"Liberation Sans","labelFontSize":25,"labelColor":"#262626","labelFlush":false,"labelOverlap":false,"titleFont":"Liberation Serif","titleFontSize":34,"titleFontWeight":"normal","titleColor":"#262626"},
"axisX":{"labelPadding":20,"titlePadding":10,"titleFontSize":35},
"axisY":{"labelPadding":21,"titlePadding":10},
"legend":{"orient":"none","legendX":447,"labelFont":"Liberation Sans","labelFontSize":29,"labelColor":"#000000","labelLimit":1000,"symbolType":"M-1,0H3","symbolSize":1332,"symbolStrokeWidth":5,"labelOffset":44,"padding":6,"rowPadding":-2,"strokeColor":"#666666","fillColor":"#ffffff","strokeWidth":1.5,"cornerRadius":0}
}
}
